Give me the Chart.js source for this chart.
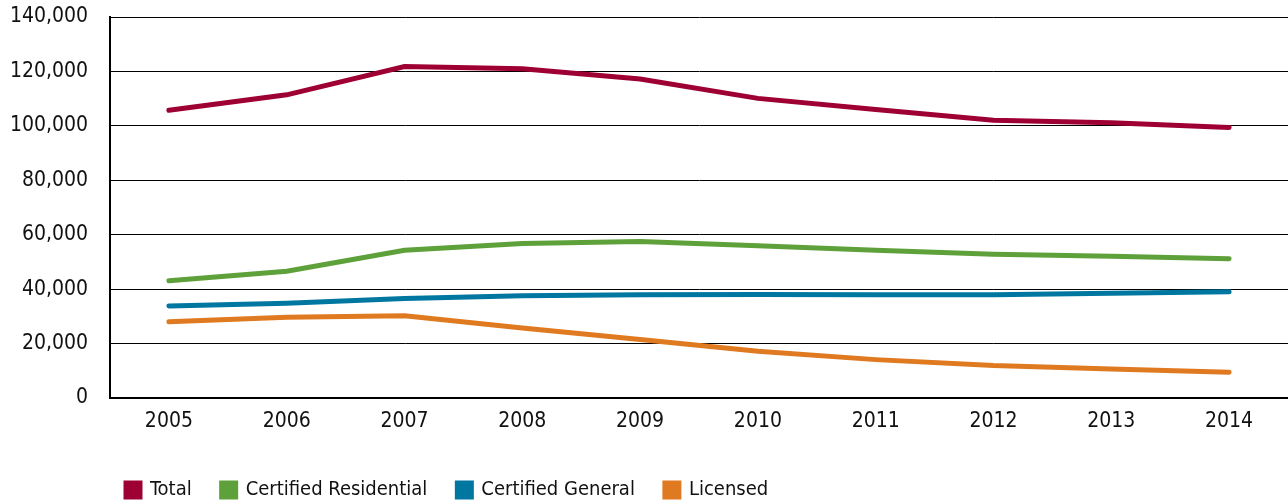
<!DOCTYPE html>
<html>
<head>
<meta charset="utf-8">
<script src="https://cdn.jsdelivr.net/npm/chart.js@4.4.1/dist/chart.umd.min.js"></script>
<style>
  html, body { margin: 0; padding: 0; background: #fff; }
  #wrap { width: 1288px; height: 504px; position: relative; }
</style>
</head>
<body>
<div id="wrap"><canvas id="trend_chart"></canvas></div>
<script>
var years = ["2005", "2006", "2007", "2008", "2009", "2010", "2011", "2012", "2013", "2014"];
var total = [105700, 111400, 121800, 121000, 117200, 110100, 106000, 102100, 101100, 99400];
var certResidential = [43100, 46600, 54300, 56800, 57500, 55900, 54300, 52800, 52100, 51200];
var certGeneral = [33800, 34800, 36600, 37600, 37900, 38000, 37900, 37900, 38500, 39000];
var licensed = [28000, 29700, 30200, 25700, 21500, 17200, 14100, 11900, 10700, 9500];

var fontFamily = "'Liberation Sans Narrow', 'DejaVu Sans Condensed', 'Liberation Sans', sans-serif";

function line(label, data, color) {
  return {
    label: label,
    data: data,
    borderColor: color,
    backgroundColor: color,
    borderWidth: 5,
    pointRadius: 0,
    borderCapStyle: 'round',
    borderJoinStyle: 'miter',
    tension: 0
  };
}

// nudge the legend so it sits where the original one does
var legendShift = {
  id: 'legendShift',
  afterLayout: function (chart) {
    chart.legend.left += 96;
    chart.legend.top += 6;
  }
};

document.addEventListener("DOMContentLoaded", function () {
  new Chart(document.getElementById('trend_chart'), {
    type: 'line',
    data: {
      labels: years,
      datasets: [
        line('Total', total, '#9e0034'),
        line('Certified Residential', certResidential, '#5ea13a'),
        line('Certified General', certGeneral, '#0077a1'),
        line('Licensed', licensed, '#e07a20')
      ]
    },
    plugins: [legendShift],
    options: {
      responsive: true,
      maintainAspectRatio: false,
      animation: false,
      layout: { padding: { top: 17, right: 0, left: 0, bottom: 0 } },
      plugins: {
        tooltip: { enabled: false },
        legend: {
          position: 'bottom',
          align: 'start',
          labels: {
            boxWidth: 14,
            boxHeight: 14,
            padding: 30,
            color: '#111',
            font: { family: fontFamily, size: 20 }
          }
        }
      },
      scales: {
        x: {
          offset: true,
          grid: { display: false },
          border: { display: true, color: '#000', width: 2 },
          ticks: { color: '#111', padding: 3, font: { family: fontFamily, size: 21 } },
          afterFit: function (scale) { scale.height = 46; }
        },
        y: {
          min: 0,
          max: 140000,
          grid: { color: '#000', lineWidth: 1, drawTicks: false },
          border: { display: true, color: '#000', width: 2 },
          ticks: {
            stepSize: 20000,
            color: '#111',
            padding: 22,
            font: { family: fontFamily, size: 21 },
            callback: function (v) { return v.toLocaleString('en-US'); }
          },
          afterFit: function (scale) {
            scale.width = 110;
            scale.paddingTop = 0;
            scale.paddingBottom = 0;
          }
        }
      }
    }
  });
});
</script>
</body>
</html>
